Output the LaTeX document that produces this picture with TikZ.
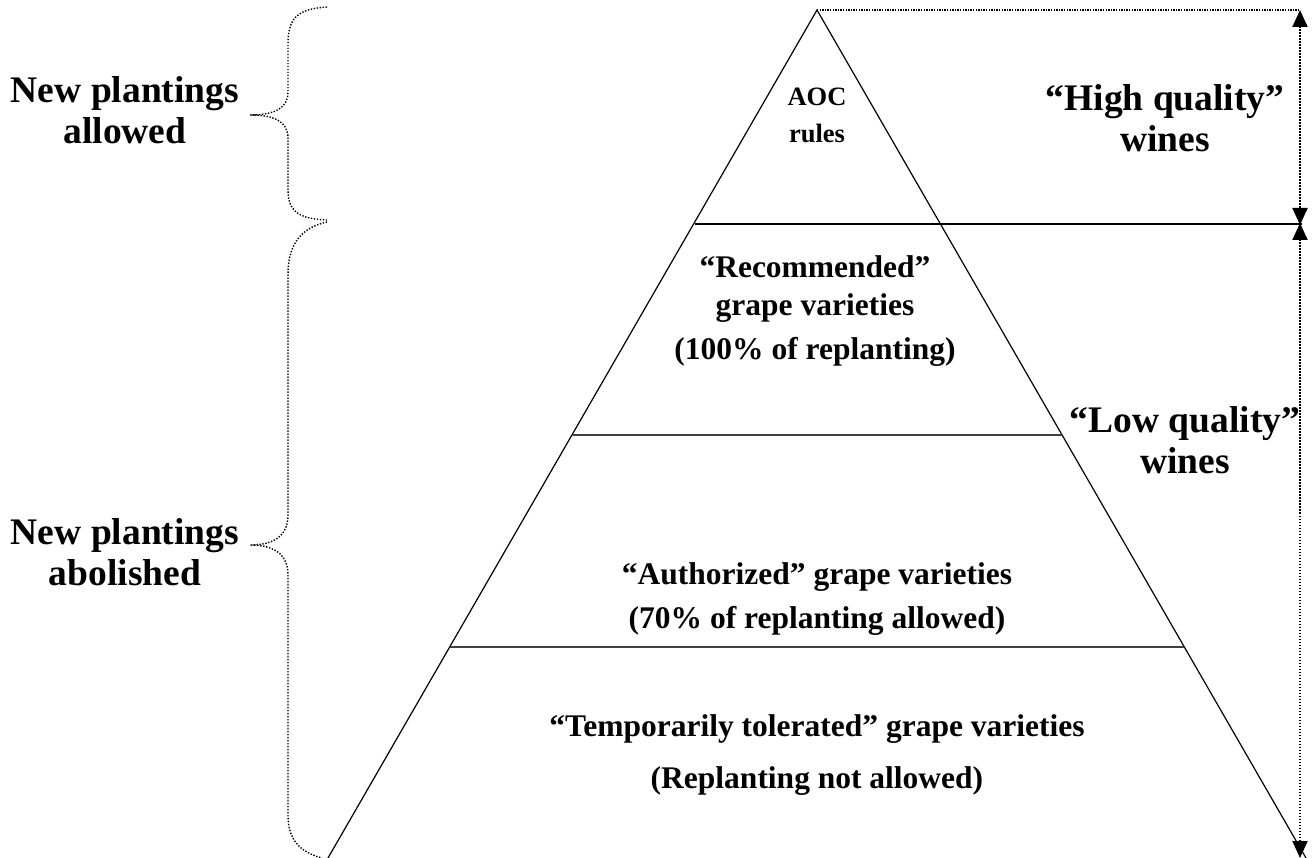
\documentclass[tikz,border=0pt]{standalone}
\usepackage{fontspec}
\setmainfont{Liberation Serif}
\usetikzlibrary{arrows.meta}
\begin{document}
\begin{tikzpicture}[x=1pt,y=-1pt,
  lbl/.style={font=\bfseries\fontsize{37.5}{41}\selectfont, align=center, inner sep=0pt},
  plbl/.style={font=\bfseries\fontsize{31.5}{38}\selectfont, align=center, inner sep=0pt},
  aoc/.style={font=\bfseries\fontsize{26.5}{37}\selectfont, align=center, inner sep=0pt},
  side/.style={line width=1.2pt, black},
  tier/.style={line width=2pt, black!75},
  bracedot/.style={line width=1.4pt, dash pattern=on 1.4pt off 1.6pt},
  tip/.tip={Triangle[length=17pt,width=15pt,sep=0pt]},
  arrdot/.style={line width=2pt, dash pattern=on 1.6pt off 1.4pt, tip-tip},
  topdot/.style={line width=1.2pt, dash pattern=on 1.3pt off 1.3pt}]
\useasboundingbox (0,0) rectangle (1312,858);
% pyramid
\coordinate (apex) at (817,10);
\coordinate (bl) at (328,858);
\coordinate (br) at (1306,858);
\draw[side] (bl) -- (apex) -- (br);
% tiers
\coordinate (t1l) at (695,224);
\coordinate (t1r) at (1302,224);
\coordinate (t2l) at (572,435);
\coordinate (t2r) at (1062,435);
\coordinate (t3l) at (450,647);
\coordinate (t3r) at (1184,647);
\draw[line width=2.5pt] (t1l) -- (t1r);
\draw[tier] (t2l) -- (t2r);
\draw[tier] (t3l) -- (t3r);
% top dotted line and arrows
\coordinate (tr) at (1300,10);
\coordinate (am) at (1300,224);
\coordinate (ab) at (1300,858);
\draw[topdot] (apex) -- (tr);
\draw[arrdot] (tr) -- ([yshift=-1pt]am);
\draw[arrdot] ([yshift=1pt]am) -- (ab);
% braces
\draw[bracedot] (327,7) .. controls (295,9) and (288,20) .. (288,45) -- (288,92)
  .. controls (288,108) and (275,115) .. (250,115)
  .. controls (275,115) and (288,122) .. (288,138) -- (288,190)
  .. controls (288,212) and (300,219) .. (327,220);
\draw[bracedot] (327,222) .. controls (300,228) and (288,245) .. (288,275) -- (288,515)
  .. controls (288,535) and (275,545) .. (250,545)
  .. controls (275,545) and (288,555) .. (288,575) -- (288,815)
  .. controls (288,840) and (300,852) .. (322,858);
% labels
\node[lbl] (allow) at (125,110) {New plantings\\allowed};
\node[lbl] (abol) at (125,552) {New plantings\\abolished};
\node[lbl] (hq) at (1165,118) {“High quality”\\wines};
\node[lbl] (lq) at (1185,440) {“Low quality”\\wines};
\node[aoc] (aocr) at (817,115) {AOC\\rules};
\node[plbl] (rec) at (815,311) {“Recommended”\\grape varieties\\[6pt](100\% of replanting)};
\node[plbl] (auth) at (817,599) {“Authorized” grape varieties\\[6pt](70\% of replanting allowed)};
\node[plbl] (temp) at (817,755) {“Temporarily tolerated” grape varieties\\[14pt](Replanting not allowed)};
\end{tikzpicture}
\end{document}
